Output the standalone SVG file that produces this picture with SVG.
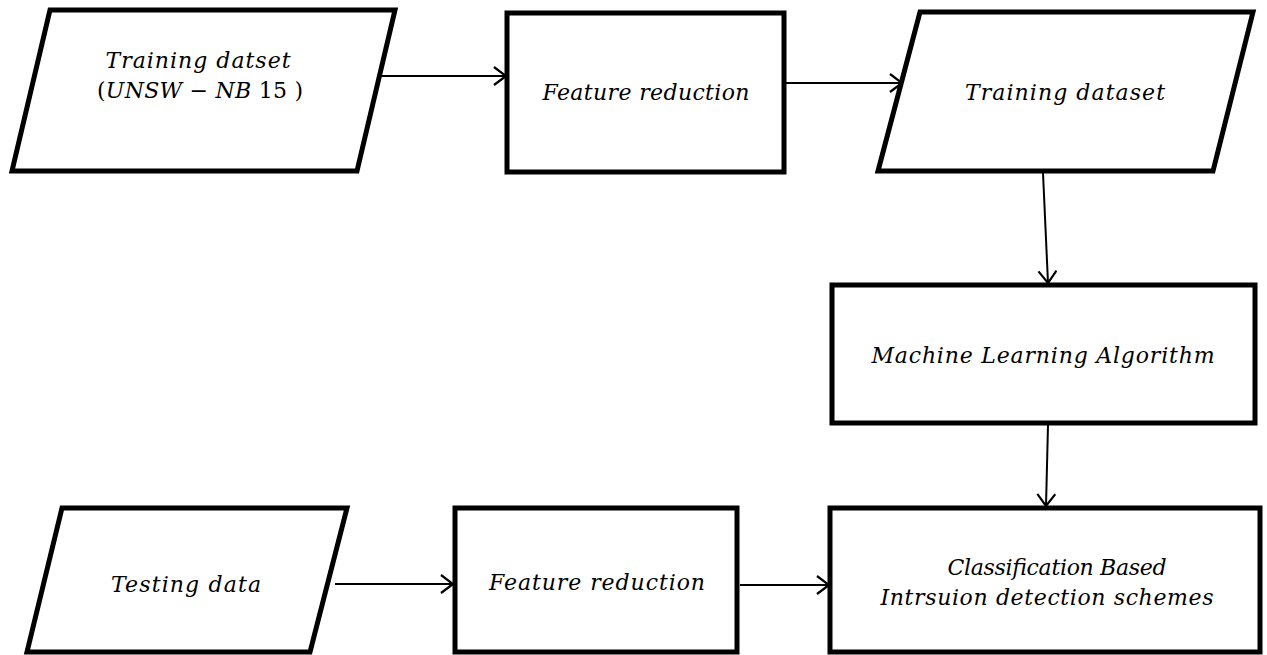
<svg xmlns="http://www.w3.org/2000/svg" width="1267" height="655" viewBox="0 0 1267 655">
<style>
.box{fill:#fff;stroke:#000;stroke-width:5;stroke-linejoin:miter}
.lbl{font-family:"DejaVu Serif","Liberation Serif",serif;font-style:italic;font-size:22px;fill:#000;text-anchor:middle}
.up{font-style:normal}
.con{stroke:#000;stroke-width:2;fill:none}
</style>
<defs>
<marker id="arr" viewBox="0 0 14 20" refX="13" refY="10" markerWidth="14" markerHeight="20" markerUnits="userSpaceOnUse" orient="auto">
<path d="M1,1 L13,10 L1,19" fill="none" stroke="#000" stroke-width="2.2"/>
</marker>
</defs>
<rect width="1267" height="655" fill="#fff"/>
<g id="connectors">
<line class="con" x1="381" y1="76" x2="506" y2="76" marker-end="url(#arr)"/>
<line class="con" x1="786" y1="83" x2="902" y2="83" marker-end="url(#arr)"/>
<line class="con" x1="1043" y1="173" x2="1048" y2="283" marker-end="url(#arr)"/>
<line class="con" x1="1048" y1="425" x2="1046" y2="506" marker-end="url(#arr)"/>
<line class="con" x1="335" y1="584" x2="453" y2="584" marker-end="url(#arr)"/>
<line class="con" x1="740" y1="585" x2="829" y2="585" marker-end="url(#arr)"/>
</g>
<g id="n1">
<polygon class="box" points="50,10 395,10 357,171 12,171"/>
<text class="lbl" x="198" y="68" textLength="185" lengthAdjust="spacing">Training datset</text>
<text class="lbl" x="200" y="98" textLength="206" lengthAdjust="spacing"><tspan class="up">(</tspan>UNSW<tspan class="up"> − </tspan>NB<tspan class="up"> 15 )</tspan></text>
</g>
<g id="n2">
<rect class="box" x="507" y="13" width="277" height="159"/>
<text class="lbl" x="646" y="100" textLength="207" lengthAdjust="spacing">Feature reduction</text>
</g>
<g id="n3">
<polygon class="box" points="920,12 1253,12 1213,171 878,171"/>
<text class="lbl" x="1065" y="100" textLength="200" lengthAdjust="spacing">Training dataset</text>
</g>
<g id="n4">
<rect class="box" x="832" y="285" width="423" height="138"/>
<text class="lbl" x="1043" y="363" textLength="343" lengthAdjust="spacing">Machine Learning Algorithm</text>
</g>
<g id="n5">
<polygon class="box" points="62,508 347,508 310,652 27,652"/>
<text class="lbl" x="186" y="592" textLength="150" lengthAdjust="spacing">Testing data</text>
</g>
<g id="n6">
<rect class="box" x="455" y="508" width="282" height="144"/>
<text class="lbl" x="597" y="590" textLength="216" lengthAdjust="spacing">Feature reduction</text>
</g>
<g id="n7">
<rect class="box" x="830" y="508" width="430" height="144"/>
<text class="lbl" x="1057" y="575" textLength="219" lengthAdjust="spacing">Classification Based</text>
<text class="lbl" x="1047" y="605" textLength="333" lengthAdjust="spacing">Intrsuion detection schemes</text>
</g>
</svg>
